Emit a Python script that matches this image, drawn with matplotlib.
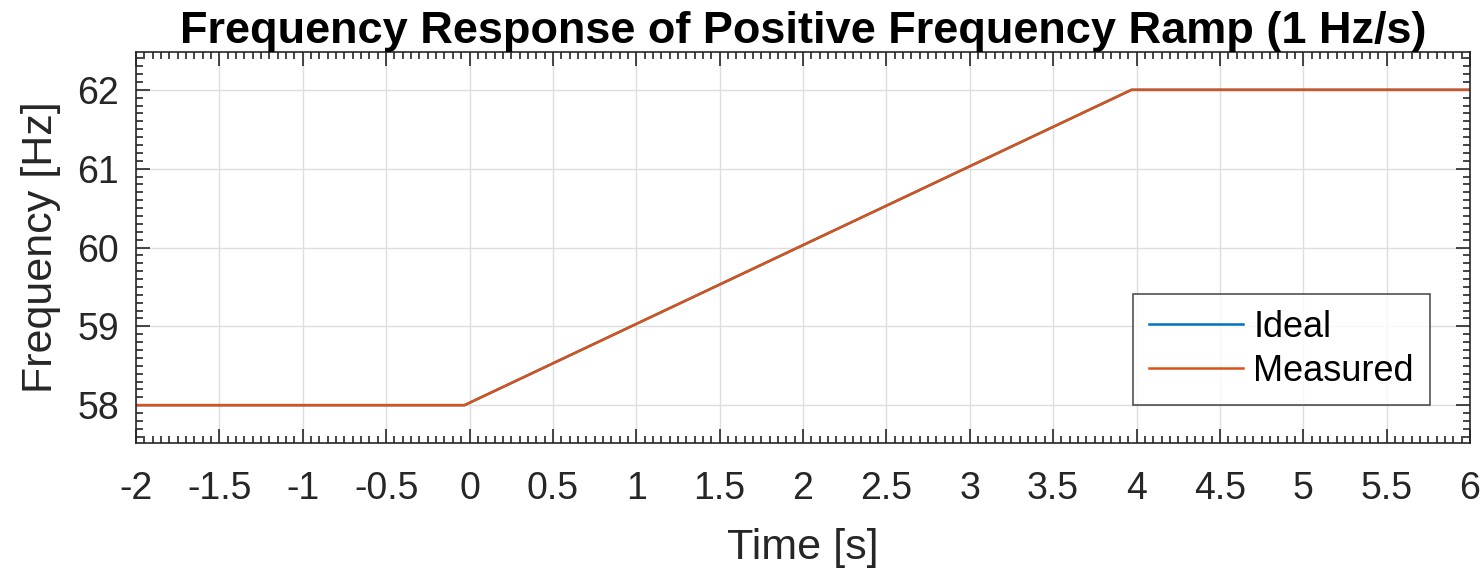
import matplotlib

matplotlib.use("Agg")
import matplotlib.pyplot as plt
from matplotlib.ticker import MultipleLocator

# ramp: 58 Hz -> 62 Hz at 1 Hz/s
time_ideal = [-2.0, -0.03, 3.97, 6.0]
freq_ideal = [58.0, 58.0, 62.0, 62.0]
time_meas = [-2.0, -0.03, 3.97, 6.0]
freq_meas = [58.0, 58.0, 62.0, 62.0]

x_ticks = [-2, -1.5, -1, -0.5, 0, 0.5, 1, 1.5, 2, 2.5, 3, 3.5, 4, 4.5, 5, 5.5, 6]
x_tick_labels = ["-2", "-1.5", "-1", "-0.5", "0", "0.5", "1", "1.5", "2", "2.5",
                 "3", "3.5", "4", "4.5", "5", "5.5", "6"]
y_ticks = [58, 59, 60, 61, 62]

plt.rcParams["font.family"] = ["Liberation Sans", "DejaVu Sans"]

fig = plt.figure(figsize=(14.84, 5.69), dpi=100)
ax = fig.add_axes([136 / 1484, 1 - 443 / 569, (1470 - 136) / 1484, (443 - 52) / 569])

ax.plot(time_ideal, freq_ideal, color="#0072BD", lw=1.8, label="Ideal")
ax.plot(time_meas, freq_meas, color="#D95319", lw=1.8, label="Measured")

ax.set_xlim(-2, 6)
ax.set_ylim(57.52, 62.48)
ax.set_xticks(x_ticks)
ax.set_xticklabels(x_tick_labels)
ax.set_yticks(y_ticks)
ax.xaxis.set_minor_locator(MultipleLocator(0.05))
ax.yaxis.set_minor_locator(MultipleLocator(0.1))
ax.tick_params(which="both", direction="in", top=True, right=True,
               color="#262626", labelcolor="#262626", labelsize=27, width=1.2)
ax.tick_params(which="major", length=10)
ax.tick_params(which="minor", length=5)
ax.tick_params(axis="x", which="major", pad=20)
ax.tick_params(axis="y", which="major", pad=12)
ax.grid(True, which="major", color="#dedede", lw=1.0)
for s in ax.spines.values():
    s.set_color("#262626")
    s.set_linewidth(1.2)

ax.set_xlabel("Time [s]", fontsize=31, color="#262626", labelpad=15)
ax.set_ylabel("Frequency [Hz]", fontsize=31, color="#262626", labelpad=12)
ax.set_title("Frequency Response of Positive Frequency Ramp (1 Hz/s)",
             fontsize=32.5, fontweight="bold", pad=5)

leg = ax.legend(loc="lower right", bbox_to_anchor=(0.97, 0.097), fontsize=26,
                frameon=True, fancybox=False, edgecolor="#262626",
                handlelength=2.6, handletextpad=0.28, borderpad=0.45,
                labelspacing=0.25, borderaxespad=0)
leg.get_frame().set_linewidth(1.2)

fig.savefig("out.png", dpi=100)
